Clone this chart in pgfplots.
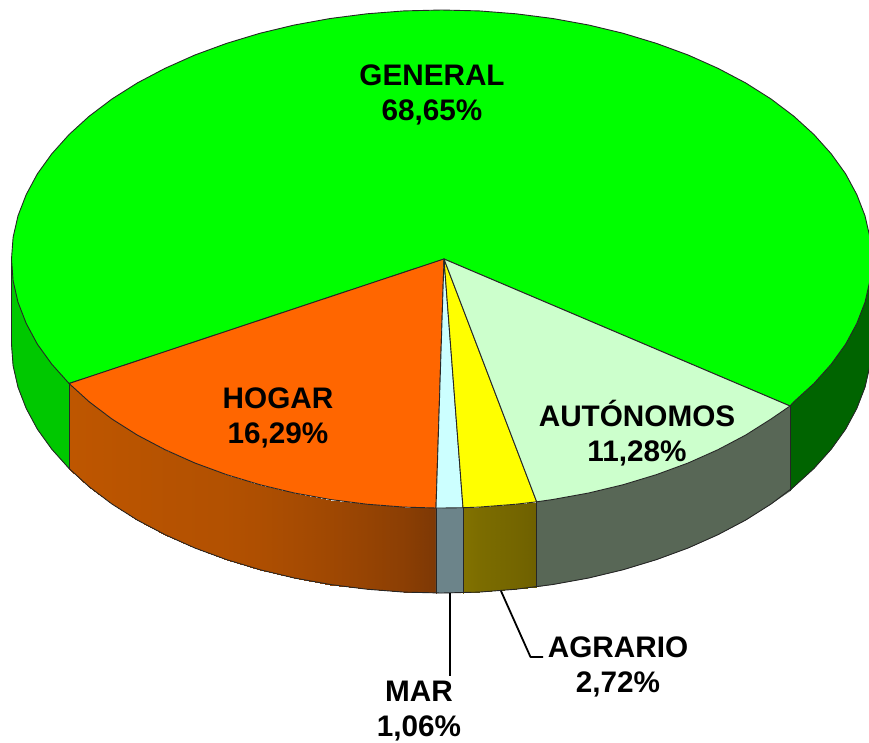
\documentclass[border=0pt]{standalone}
\usepackage{pgfplots}
\pgfplotsset{compat=1.18}
\usepackage{fontspec}
\setmainfont{Liberation Sans}
\definecolor{gTop}{RGB}{0,255,0}
\definecolor{gLeft}{RGB}{0,200,0}
\definecolor{gRight}{RGB}{0,100,0}
\definecolor{hTop}{RGB}{255,102,0}
\definecolor{mTop}{RGB}{204,255,255}
\definecolor{mWall}{RGB}{108,132,138}
\definecolor{yTop}{RGB}{255,255,0}
\definecolor{aTop}{RGB}{204,255,204}
\definecolor{aWall}{RGB}{88,103,86}
\tikzset{lab/.style={font=\fontsize{29.7}{35}\selectfont\bfseries,align=center,anchor=center,inner sep=0pt}}
\begin{document}
\begin{tikzpicture}
\begin{axis}[
  width=869pt,height=742pt,scale only axis,
  xmin=0,xmax=869,ymin=0,ymax=742,y dir=reverse,
  hide axis,clip=true,
  colormap={wall}{rgb255=(190,86,0) rgb255=(125,56,5) rgb255=(130,114,0) rgb255=(110,96,0)},
  point meta min=0,point meta max=3,
  every axis plot/.append style={line join=round}
]
% --- outer walls ---
\addplot[fill=gLeft,draw=gLeft,line width=0.3pt] coordinates {(11.5,259)(13.1,280.7)(18,302.2)(26.2,323.4)(37.4,344.2)(51.8,364.2)(69.1,383.5)(69.1,468.5)(51.8,449.2)(37.4,429.2)(26.2,408.4)(18,387.2)(13.1,365.7)(11.5,344)} -- cycle;
\addplot[fill=gRight,draw=gRight,line width=0.3pt] coordinates {(790,406)(793.8,401.8)(813.9,383.5)(831.2,364.2)(845.6,344.2)(856.8,323.4)(865,302.2)(869.9,280.7)(871.5,259)(871.5,344)(869.9,365.7)(865,387.2)(856.8,408.4)(845.6,429.2)(831.2,449.2)(813.9,468.5)(793.8,486.8)(790,491)} -- cycle;
% Hogar and Agrario walls, shaded: columns x, y, colour position
\addplot[patch,patch type=rectangle,shader=interp,point meta=explicit] coordinates {
(69.1,383.5)[0] (89.2,401.8)[.02] (89.2,486.8)[.02] (69.1,468.5)[0]
(89.2,401.8)[.02] (112.1,419.1)[.05] (112.1,504.1)[.05] (89.2,486.8)[.02]
(112.1,419.1)[.05] (137.4,435.1)[.08] (137.4,520.1)[.08] (112.1,504.1)[.05]
(137.4,435.1)[.08] (165.1,449.7)[.12] (165.1,534.7)[.12] (137.4,520.1)[.08]
(165.1,449.7)[.12] (194.9,463)[.15] (194.9,548)[.15] (165.1,534.7)[.12]
(194.9,463)[.15] (226.5,474.6)[.18] (226.5,559.6)[.18] (194.9,548)[.15]
(226.5,474.6)[.18] (259.8,484.7)[.25] (259.8,569.7)[.25] (226.5,559.6)[.18]
(259.8,484.7)[.25] (294.4,493)[.35] (294.4,578)[.35] (259.8,569.7)[.25]
(294.4,493)[.35] (330.2,499.5)[.47] (330.2,584.5)[.47] (294.4,578)[.35]
(330.2,499.5)[.47] (366.9,504.2)[.62] (366.9,589.2)[.62] (330.2,584.5)[.47]
(366.9,504.2)[.62] (404,507.1)[.78] (404,592.1)[.78] (366.9,589.2)[.62]
(404,507.1)[.78] (436,508)[1] (436,593)[1] (404,592.1)[.78]
(463,507.7)[2] (479,507.1)[2.3] (479,592.1)[2.3] (463,592.7)[2]
(479,507.1)[2.3] (516.1,504.2)[2.7] (516.1,589.2)[2.7] (479,592.1)[2.3]
(516.1,504.2)[2.7] (536.7,501.8)[3] (536.7,586.8)[3] (516.1,589.2)[2.7]
};
% Mar wall
\addplot[fill=mWall,draw=mWall,line width=0.3pt] coordinates {(436,508)(441.5,508)(463,507.7)(463,592.7)(441.5,593)(436,593)} -- cycle;
% Autonomos wall
\addplot[fill=aWall,draw=aWall,line width=0.3pt] coordinates {(536.7,501.8)(552.8,499.5)(588.6,493)(623.2,484.7)(656.5,474.6)(688.1,463)(717.9,449.7)(745.6,435.1)(770.9,419.1)(790,406)(790,491)(770.9,504.1)(745.6,520.1)(717.9,534.7)(688.1,548)(656.5,559.6)(623.2,569.7)(588.6,578)(552.8,584.5)(536.7,586.8)} -- cycle;
% wall outlines: lower rim and the verticals
\addplot[draw=black!85,line width=0.9pt] coordinates {(11.5,259)(11.5,344)(13.1,365.7)(18,387.2)(26.2,408.4)(37.4,429.2)(51.8,449.2)(69.1,468.5)(89.2,486.8)(112.1,504.1)(137.4,520.1)(165.1,534.7)(194.9,548)(226.5,559.6)(259.8,569.7)(294.4,578)(330.2,584.5)(366.9,589.2)(404,592.1)(441.5,593)(479,592.1)(516.1,589.2)(552.8,584.5)(588.6,578)(623.2,569.7)(656.5,559.6)(688.1,548)(717.9,534.7)(745.6,520.1)(770.9,504.1)(793.8,486.8)(813.9,468.5)(831.2,449.2)(845.6,429.2)(856.8,408.4)(865,387.2)(869.9,365.7)(871.5,344)};
\addplot[draw=black!85,line width=0.9pt] coordinates {(69.1,383.5)(69.1,468.5)};
\addplot[draw=black!85,line width=0.9pt] coordinates {(436,508)(436,593)};
\addplot[draw=black!85,line width=0.9pt] coordinates {(463,507.7)(463,592.7)};
\addplot[draw=black!85,line width=0.9pt] coordinates {(536.7,501.8)(536.7,586.8)};
\addplot[draw=black!85,line width=0.9pt] coordinates {(790,406)(790,491)};
% --- top face ---
\addplot[fill=gTop,draw=black!85,line width=0.9pt] coordinates {(444,259)(790,406)(793.8,401.8)(813.9,383.5)(831.2,364.2)(845.6,344.2)(856.8,323.4)(865,302.2)(869.9,280.7)(871.5,259)(869.9,237.3)(865,215.8)(856.8,194.6)(845.6,173.8)(831.2,153.8)(813.9,134.5)(793.8,116.2)(770.9,98.9)(745.6,82.9)(717.9,68.3)(688.1,55)(656.5,43.4)(623.2,33.3)(588.6,25)(552.8,18.5)(516.1,13.8)(479,10.9)(441.5,10)(404,10.9)(366.9,13.8)(330.2,18.5)(294.4,25)(259.8,33.3)(226.5,43.4)(194.9,55)(165.1,68.3)(137.4,82.9)(112.1,98.9)(89.2,116.2)(69.1,134.5)(51.8,153.8)(37.4,173.8)(26.2,194.6)(18,215.8)(13.1,237.3)(11.5,259)(13.1,280.7)(18,302.2)(26.2,323.4)(37.4,344.2)(51.8,364.2)(69.1,383.5)} -- cycle;
\addplot[fill=hTop,draw=black!85,line width=0.9pt] coordinates {(444,259)(69.1,383.5)(89.2,401.8)(112.1,419.1)(137.4,435.1)(165.1,449.7)(194.9,463)(226.5,474.6)(259.8,484.7)(294.4,493)(330.2,499.5)(366.9,504.2)(404,507.1)(436,508)} -- cycle;
\addplot[fill=mTop,draw=black!85,line width=0.9pt] coordinates {(444,259)(436,508)(441.5,508)(463,507.7)} -- cycle;
\addplot[fill=yTop,draw=black!85,line width=0.9pt] coordinates {(444,259)(463,507.7)(479,507.1)(516.1,504.2)(536.7,501.8)} -- cycle;
\addplot[fill=aTop,draw=black!85,line width=0.9pt] coordinates {(444,259)(536.7,501.8)(552.8,499.5)(588.6,493)(623.2,484.7)(656.5,474.6)(688.1,463)(717.9,449.7)(745.6,435.1)(770.9,419.1)(790,406)} -- cycle;
% leader lines
\addplot[draw=black,line width=1.8pt] coordinates {(450,593)(450,676)};
\addplot[draw=black,line width=1.8pt] coordinates {(501,591)(530.5,657)(543,657)};
% labels
\node[lab] at (axis cs:432,94.5) {GENERAL\\68,65\%};
\node[lab] at (axis cs:278,417.5) {HOGAR\\16,29\%};
\node[lab] at (axis cs:637,433) {AUTÓNOMOS\\11,28\%};
\node[lab] at (axis cs:618,667) {AGRARIO\\2,72\%};
\node[lab] at (axis cs:419,711) {MAR\\1,06\%};
\end{axis}
\pgfresetboundingbox
\path[use as bounding box] (0,0) rectangle (869pt,742pt);
\end{tikzpicture}
\end{document}
